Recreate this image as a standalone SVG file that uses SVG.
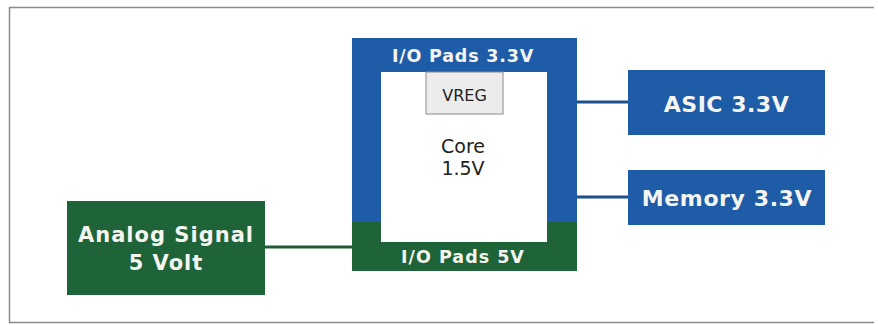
<svg xmlns="http://www.w3.org/2000/svg" width="878" height="325" viewBox="0 0 878 325">
<style>
.blue{fill:#1f5ca8}
.green{fill:#1f6338}
.lbl{font-family:"DejaVu Sans","Verdana",sans-serif;font-weight:bold;fill:#f4f4f0;text-anchor:middle}
.reg{font-family:"DejaVu Sans","Verdana",sans-serif;fill:#222222;text-anchor:middle}
.wire{stroke:#1d4f8e;stroke-width:3;fill:none}
.wireg{stroke:#1e5a35;stroke-width:3;fill:none}
</style>
<rect width="878" height="325" fill="#ffffff"/>
<path d="M874 7.5 H9.5 V322.5 H874" fill="none" stroke="#8a8a8a" stroke-width="1.5"/>
<g id="connectors">
<line class="wire" x1="577" y1="102" x2="628" y2="102"/>
<line class="wire" x1="577" y1="197" x2="628" y2="197"/>
<line class="wireg" x1="265" y1="247" x2="352" y2="247"/>
</g>
<g id="chip">
<rect class="blue" x="352" y="38" width="225" height="185"/>
<rect class="green" x="352" y="222" width="225" height="49"/>
<rect x="381" y="72" width="166" height="170" fill="#ffffff"/>
<text class="lbl" x="463" y="62" font-size="17.5" letter-spacing="0.8">I/O Pads 3.3V</text>
<text class="lbl" x="463" y="263" font-size="17.5" letter-spacing="1">I/O Pads 5V</text>
<text class="reg" x="463" y="153" font-size="19">Core</text>
<text class="reg" x="463" y="175" font-size="19">1.5V</text>
</g>
<g id="vreg">
<rect x="426" y="72" width="77" height="42" fill="#ececec" stroke="#8a8a8a" stroke-width="1"/>
<text class="reg" x="464.5" y="101" font-size="16">VREG</text>
</g>
<g id="asic">
<rect class="blue" x="628" y="70" width="197" height="65"/>
<text class="lbl" x="726.5" y="112" font-size="22" letter-spacing="0.5">ASIC 3.3V</text>
</g>
<g id="memory">
<rect class="blue" x="628" y="170" width="197" height="55"/>
<text class="lbl" x="727" y="206" font-size="22" letter-spacing="0.6">Memory 3.3V</text>
</g>
<g id="analog">
<rect class="green" x="67" y="201" width="198" height="94"/>
<text class="lbl" x="166" y="242" font-size="21" letter-spacing="1">Analog Signal</text>
<text class="lbl" x="166" y="270" font-size="21" letter-spacing="1">5 Volt</text>
</g>
</svg>
